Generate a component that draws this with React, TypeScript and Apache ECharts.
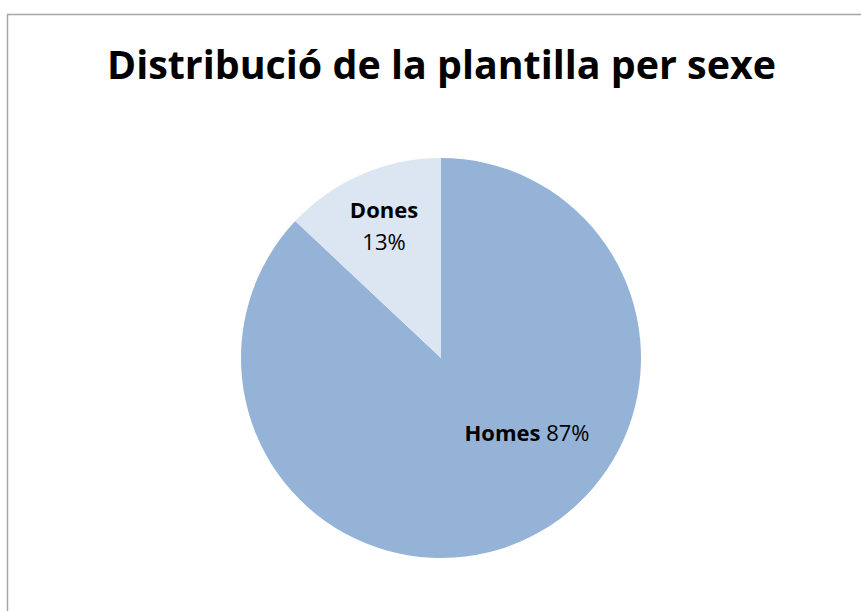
import React, { useEffect, useRef } from "react";
import * as echarts from "echarts";

const titleText = "Distribució de la plantilla per sexe";
const categories = ["Homes", "Dones"];
const values = [87, 13];
const colors = ["#95B3D7", "#DCE6F2"];

export default function App() {
  const ref = useRef<HTMLDivElement>(null);
  useEffect(() => {
    const chart = echarts.init(ref.current!, null, { renderer: "svg" });
    const FONT = "Open Sans";
    chart.setOption({
      animation: false,
      backgroundColor: "#FFFFFF",
      title: {
        text: titleText,
        left: 102,
        top: 39,
        textStyle: { fontFamily: FONT, fontWeight: "bold", fontSize: 39.4, color: "#000000" },
      },
      graphic: [
        {
          type: "rect",
          shape: { x: 7.5, y: 14.5, width: 1000, height: 1000 },
          style: { fill: "none", stroke: "#A6A6A6", lineWidth: 1.5 },
          silent: true,
        },
      ],
      series: [
        {
          type: "pie",
          center: [441, 358],
          radius: [0, 200],
          startAngle: 90,
          clockwise: true,
          silent: true,
          data: categories.map((c, i) => ({
            name: c,
            value: values[i],
            itemStyle: { color: colors[i] },
          })),
          label: {
            show: true,
            position: "inside",
            fontFamily: FONT,
            fontSize: 22,
            color: "#000000",
            align: "center",
            formatter: (p: any) =>
              p.dataIndex === 0
                ? `{b|${p.name}} {v|${p.value}%}`
                : `{b|${p.name}}\n{v|${p.value}%}`,
            rich: {
              b: { fontFamily: FONT, fontWeight: "bold", fontSize: 22, color: "#000", lineHeight: 32 },
              v: { fontFamily: FONT, fontSize: 22, color: "#000", lineHeight: 32 },
            },
          },
          labelLine: { show: false },
          labelLayout: (p: any) =>
            p.dataIndex === 0 ? { x: 527, y: 432, align: "center", verticalAlign: "middle" } : { x: 384, y: 225, align: "center", verticalAlign: "middle" },
        },
      ],
    });
    return () => chart.dispose();
  }, []);
  return <div ref={ref} style={{ position: "fixed", left: 0, top: 0, width: 861, height: 611 }} />;
}
